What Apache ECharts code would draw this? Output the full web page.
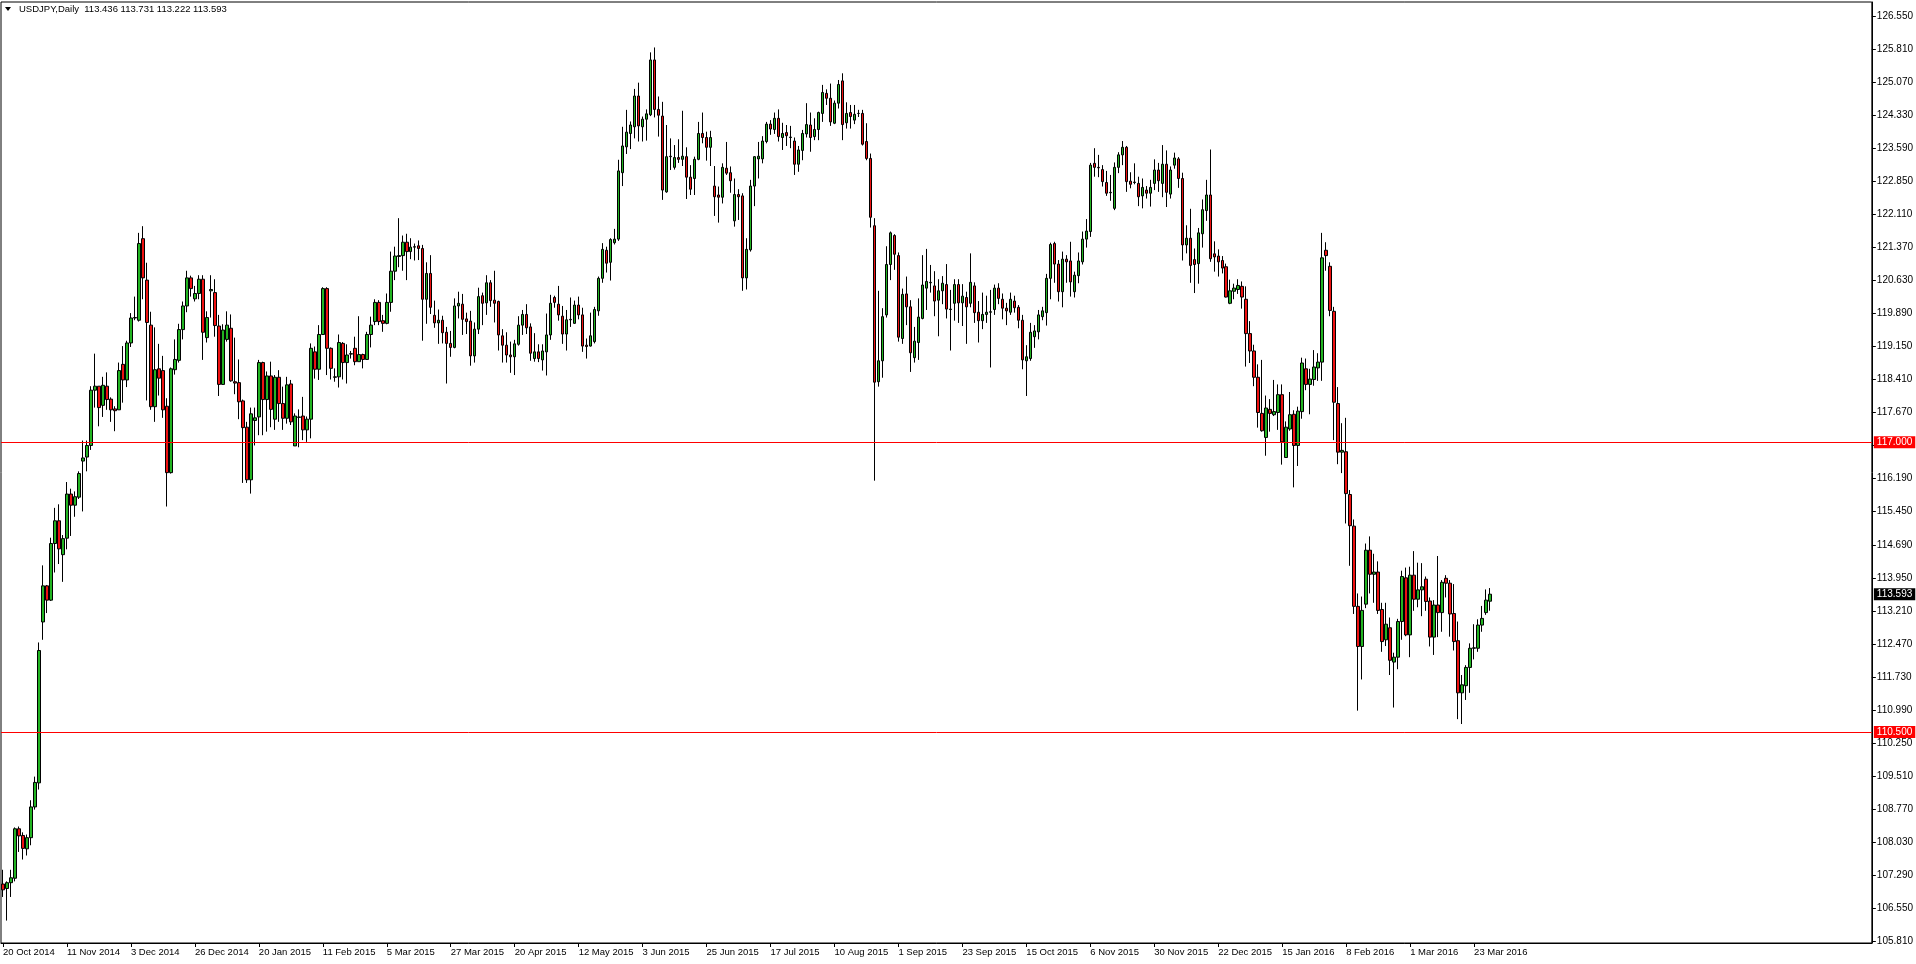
<!DOCTYPE html>
<html><head><meta charset="utf-8">
<script src="https://cdn.jsdelivr.net/npm/echarts@6/dist/echarts.min.js"></script>
<style>html,body{margin:0;padding:0;background:#fff;overflow:hidden}#c{width:1916px;height:964px}</style>
</head><body><div id="c"></div>
<script>
const symbolTitle = 'USDJPY,Daily  113.436 113.731 113.222 113.593';
const startDate = '2014-10-20';
const barCount = 373;
const slotCount = 468;

const opens = [
107.09,106.99,107.12,107.22,108.33,108.18,107.88,108.13,108.82,109.36,
112.97,113.78,113.46,114.73,115.24,114.48,114.85,115.84,115.59,115.77,
116.58,116.67,116.93,118.17,118.26,117.83,118.26,117.97,117.75,117.73,
118.75,118.40,119.23,119.79,119.74,121.57,120.64,119.63,117.80,118.65,
118.61,117.81,116.32,118.63,118.84,119.53,120.06,120.69,120.22,120.34,
120.66,119.35,120.40,120.36,119.61,118.30,119.31,119.56,118.36,118.34,
117.93,117.34,116.16,117.49,117.57,118.79,117.96,118.49,117.52,118.46,
117.87,117.54,118.31,116.92,117.56,117.59,117.28,117.52,119.03,118.64,
119.42,120.45,119.11,118.46,118.47,119.22,118.79,118.98,119.11,118.81,
118.97,118.86,119.42,119.71,120.14,119.73,119.67,120.14,120.84,121.17,
121.19,121.49,121.28,121.38,121.41,121.35,120.21,120.79,119.85,119.68,
119.74,119.47,119.22,119.13,120.06,120.10,119.77,119.72,118.94,119.54,
120.29,120.13,120.58,120.19,120.16,119.39,119.18,118.96,118.92,119.20,
119.63,119.87,119.59,118.88,119.03,118.85,119.03,119.41,120.25,120.10,
119.83,119.43,119.75,119.67,120.08,119.86,119.18,119.16,119.26,119.95,
120.68,121.31,121.04,121.48,121.56,123.05,123.63,123.93,124.08,124.77,
124.08,124.25,124.35,125.58,124.47,124.32,122.62,123.41,123.17,123.39,
123.35,123.41,122.95,122.92,123.35,123.93,123.84,123.62,122.75,122.55,
122.50,123.15,123.05,121.97,122.56,122.53,120.69,121.32,122.75,123.36,
123.36,123.75,124.14,124.02,124.27,123.84,123.95,123.84,123.76,123.24,
123.55,123.92,124.12,123.86,124.02,124.38,124.83,124.72,124.16,124.61,
125.11,124.17,124.40,124.23,124.38,124.38,123.75,123.37,121.86,118.36,
118.83,119.86,120.99,121.64,121.19,119.33,120.33,120.04,118.90,119.24,
119.78,120.46,120.58,120.51,120.19,120.40,120.54,119.98,120.12,120.54,
120.13,120.25,120.12,120.51,119.92,119.73,119.87,119.92,119.98,120.46,
120.21,120.01,119.92,120.17,120.03,119.74,118.83,118.88,119.37,119.48,
119.82,119.91,120.68,121.46,121.00,120.38,121.11,121.07,120.38,120.74,
121.05,121.56,121.73,123.26,123.17,123.12,122.83,122.60,122.25,123.17,
123.45,123.62,122.86,122.83,122.81,122.53,122.66,122.59,122.81,123.11,
122.81,123.24,122.57,123.22,123.36,122.92,121.43,121.58,121.10,121.01,
121.68,122.20,122.55,121.23,121.18,121.08,120.94,120.12,120.39,120.43,
120.50,120.21,119.44,119.05,118.46,117.65,117.11,117.74,117.62,117.67,
118.07,116.66,117.30,117.63,116.93,117.69,118.65,118.30,118.41,118.67,
118.80,121.31,120.95,119.94,117.87,116.78,116.79,115.83,115.12,113.32,
112.42,113.37,114.58,114.04,114.09,113.25,112.57,112.84,112.07,112.18,
112.98,113.96,112.68,114.02,113.48,113.69,113.93,113.44,112.63,113.35,
113.18,113.95,113.84,113.16,112.55,111.38,111.54,111.95,112.38,112.38,
112.90,113.18,113.436
];

const highs = [
107.41,107.15,107.41,108.36,108.38,108.25,108.20,108.97,109.50,112.51,
114.24,113.80,114.86,115.53,115.61,114.92,116.11,115.96,115.90,116.35,
117.04,117.04,118.26,118.99,118.26,118.47,118.57,118.01,117.81,118.79,
119.16,119.28,119.90,120.27,121.70,121.85,121.03,119.93,119.58,119.21,
118.94,117.99,118.68,119.31,119.66,120.16,120.85,120.74,120.51,120.75,
120.75,119.94,120.75,120.66,119.86,119.65,119.94,119.87,119.35,118.86,
117.96,117.46,117.78,117.78,118.85,118.81,118.59,118.81,118.51,118.62,
118.25,118.47,118.40,117.65,117.74,118.02,117.58,119.22,119.15,119.63,
120.48,120.48,119.13,118.66,119.42,119.25,119.20,119.05,119.37,119.83,
118.99,119.48,119.82,120.21,120.19,119.86,120.34,121.28,121.39,122.03,
121.64,121.68,121.58,121.46,121.53,121.43,121.04,121.20,120.18,119.98,
119.84,119.59,119.50,120.23,120.38,120.33,119.91,119.95,119.69,120.47,
120.36,120.75,120.64,120.85,120.18,119.54,119.47,119.26,119.30,119.83,
119.97,120.10,119.67,119.45,119.20,119.20,119.89,120.31,120.29,120.51,
120.06,119.97,120.25,120.18,120.27,120.02,119.33,119.91,120.04,120.72,
121.47,121.39,121.58,121.79,123.34,124.08,124.46,124.20,124.93,125.07,
124.31,124.47,125.75,125.86,124.76,124.64,124.12,123.82,123.67,123.80,
124.44,123.62,123.22,123.41,124.19,124.40,123.97,123.99,123.20,122.74,
123.26,123.74,123.19,122.92,122.68,122.59,121.58,122.89,123.42,123.74,
123.87,124.19,124.23,124.40,124.47,124.17,124.12,124.10,123.84,123.65,
124.01,124.61,124.40,124.27,124.42,125.02,124.92,125.05,124.67,125.13,
125.28,124.63,124.57,124.57,124.46,124.46,124.16,123.48,122.03,120.40,
120.01,121.40,121.73,121.67,121.26,120.45,120.72,120.19,119.59,120.23,
121.20,121.34,120.98,120.84,120.66,120.73,121.00,120.42,120.66,120.66,
120.55,120.38,121.24,120.59,120.17,120.36,120.29,120.42,120.54,120.57,
120.34,120.13,120.36,120.29,120.08,119.86,119.18,119.68,119.63,119.97,
120.04,120.78,121.48,121.50,121.09,121.28,121.20,121.50,120.83,121.26,
121.73,122.01,123.27,123.60,123.45,123.22,123.09,123.00,123.28,123.51,
123.76,123.65,123.06,123.26,122.96,122.92,122.75,122.89,123.35,123.27,
123.67,123.55,123.19,123.50,123.40,123.05,121.87,122.24,121.35,121.81,
122.45,122.89,123.57,121.51,121.33,121.18,121.01,120.65,120.56,120.66,
120.61,120.50,119.72,119.19,118.75,118.85,118.05,117.97,118.40,118.30,
118.30,117.47,118.13,117.72,117.80,118.90,118.88,118.65,119.07,119.00,
121.70,121.49,121.04,120.04,118.24,117.43,117.55,115.93,115.27,113.61,
113.54,114.73,114.89,114.50,114.33,113.40,113.40,113.07,112.28,113.04,
114.12,114.19,114.21,114.56,114.30,114.29,113.99,113.52,113.46,114.45,
113.91,114.02,113.91,113.82,112.98,111.78,112.00,112.49,112.92,113.03,
113.33,113.70,113.731
];

const lows = [
106.80,106.27,106.80,107.15,107.81,107.64,107.73,107.96,108.76,109.21,
112.57,113.17,113.44,114.08,114.27,113.87,114.60,114.90,115.33,115.73,
115.45,116.35,116.83,117.78,117.36,117.57,117.73,117.46,117.25,117.73,
117.89,118.24,119.14,119.74,119.71,120.21,117.94,117.73,117.46,118.05,
117.55,115.56,116.30,118.52,118.79,119.31,119.92,120.27,120.16,120.21,
118.85,119.24,119.80,119.37,118.04,118.29,119.26,118.36,118.08,117.52,
116.09,116.09,115.85,116.93,117.16,117.16,117.24,117.34,117.28,117.46,
117.28,117.42,117.39,116.92,116.89,117.05,117.01,117.09,118.43,118.40,
119.41,118.51,118.41,118.36,118.23,118.41,118.32,118.88,118.73,118.81,
118.66,118.85,119.13,119.63,119.63,119.48,119.65,119.93,120.64,120.93,
120.85,120.64,121.11,121.08,121.09,119.28,119.66,119.88,119.57,119.21,
119.22,118.32,118.92,119.11,119.78,119.41,119.43,118.72,118.79,119.43,
119.63,119.86,120.04,119.69,119.06,118.79,118.79,118.56,118.51,119.17,
119.41,119.43,118.83,118.81,118.80,118.61,118.50,119.30,120.02,119.73,
119.21,119.06,119.59,119.66,119.76,119.03,118.88,119.15,119.22,119.84,
120.58,120.81,120.63,121.44,121.52,122.75,123.47,123.58,123.82,123.75,
123.75,123.77,124.32,124.29,123.86,122.44,122.60,123.11,123.12,123.27,
123.20,122.46,122.55,122.55,123.33,123.71,123.32,123.20,122.08,121.93,
122.36,123.00,122.60,121.84,121.99,120.40,120.43,121.28,122.30,122.92,
123.26,123.71,123.90,123.92,123.75,123.56,123.65,123.60,123.00,123.07,
123.33,123.84,123.52,123.78,123.78,124.19,124.57,124.10,124.14,124.49,
123.78,124.04,124.04,124.14,124.30,123.66,123.33,121.82,116.14,118.25,
118.45,119.80,120.64,120.87,119.26,119.21,119.63,118.58,118.79,118.85,
119.76,119.97,120.36,119.83,119.38,120.10,119.78,119.06,119.73,119.68,
119.61,119.21,120.03,119.68,119.24,119.54,119.68,118.68,119.86,120.10,
119.76,119.63,119.86,119.91,119.56,118.64,118.04,118.83,119.12,119.31,
119.74,119.62,120.21,120.58,120.16,120.03,120.58,120.27,120.25,120.57,
120.99,121.37,121.61,122.96,122.95,122.74,122.53,122.42,122.21,123.04,
123.22,122.62,122.70,122.79,122.30,122.25,122.47,122.29,122.66,122.62,
122.50,122.28,122.47,123.14,122.71,121.08,121.24,120.58,120.35,120.56,
121.37,121.97,121.05,120.83,120.72,120.79,120.25,120.10,120.21,120.33,
120.00,118.70,118.78,118.26,117.33,117.24,116.70,117.24,117.59,117.28,
116.50,116.66,117.26,115.99,116.47,117.53,118.17,117.63,118.27,118.38,
118.38,120.85,119.83,117.05,116.51,116.31,115.18,114.23,113.15,110.98,
111.68,113.28,113.61,113.40,113.15,112.30,112.43,111.78,111.05,111.91,
112.57,112.65,112.18,113.22,113.30,113.10,113.22,112.42,112.23,112.63,
112.75,113.52,112.64,112.33,110.79,110.68,111.22,111.38,112.13,112.30,
112.75,113.13,113.222
];

const closes = [
106.96,107.12,107.23,108.33,108.17,107.89,108.13,108.82,109.37,112.33,
113.78,113.46,114.73,115.24,114.61,114.84,115.84,115.59,115.78,116.30,
116.65,116.93,118.17,118.26,117.78,118.28,117.96,117.73,117.71,118.61,
118.40,119.23,119.79,119.80,121.46,120.69,119.69,117.80,118.63,118.44,
117.73,116.32,118.65,118.86,119.53,120.06,120.69,120.45,120.34,120.66,
119.47,119.80,120.43,119.62,118.30,119.52,119.63,118.38,118.33,117.91,
117.33,116.16,117.64,117.55,118.79,117.96,118.49,117.74,118.46,117.87,
117.54,118.29,117.46,117.59,117.57,117.28,117.52,119.11,118.64,119.42,
120.45,119.11,118.66,118.47,119.24,118.79,118.96,118.99,118.81,118.97,
118.86,119.42,119.63,120.14,119.71,119.67,120.14,120.84,121.18,121.19,
121.49,121.28,121.38,121.39,121.35,120.21,120.79,120.03,119.68,119.74,
119.46,119.22,119.13,120.06,120.12,119.76,119.71,118.94,119.54,120.27,
120.12,120.58,120.18,120.12,119.41,119.18,118.96,118.92,119.21,119.63,
119.87,119.57,119.00,119.03,118.88,119.05,119.41,120.12,120.14,119.86,
119.43,119.75,119.76,120.08,119.86,119.16,119.15,119.39,119.98,120.68,
121.33,121.02,121.55,121.56,123.09,123.65,123.96,124.12,124.77,124.10,
124.25,124.37,125.58,124.47,124.34,122.66,123.41,123.42,123.39,123.35,
123.42,122.95,122.68,123.35,123.93,123.84,123.62,123.84,122.51,122.50,
123.17,123.04,122.87,122.56,122.51,120.69,121.33,122.75,123.41,123.42,
123.76,124.14,124.03,124.27,123.86,123.93,123.88,123.85,123.24,123.56,
123.93,124.13,123.84,124.02,124.40,124.85,124.72,124.19,124.61,125.03,
124.13,124.38,124.31,124.36,124.38,123.69,123.37,122.05,118.35,118.83,
119.82,120.99,121.70,121.22,119.36,120.32,120.04,119.01,119.27,119.81,
120.53,120.61,120.59,120.17,120.40,120.57,119.99,119.99,120.54,120.13,
120.28,120.04,120.59,119.91,119.73,119.87,119.92,119.93,120.46,120.23,
120.01,119.95,120.21,120.02,119.74,118.85,118.92,119.47,119.50,119.86,
119.95,120.68,121.44,121.00,120.38,121.11,121.05,120.60,120.75,121.07,
121.56,121.74,123.22,123.17,123.16,122.85,122.59,122.61,123.17,123.45,
123.62,122.85,122.79,122.84,122.51,122.72,122.59,122.72,123.11,122.87,
123.24,122.61,123.11,123.38,122.92,121.43,121.58,120.97,120.99,121.70,
122.22,122.55,121.12,121.16,121.05,120.91,120.26,120.40,120.46,120.52,
120.26,119.44,119.05,118.46,117.67,117.26,117.77,117.65,117.69,118.07,
117.01,117.34,117.62,116.93,117.70,118.78,118.30,118.42,118.69,118.80,
121.14,121.19,119.96,117.90,116.78,116.82,115.85,115.13,113.32,112.42,
113.23,114.58,114.04,114.09,113.23,112.53,112.92,112.11,112.18,112.98,
113.99,112.68,114.02,113.48,113.69,113.76,113.43,112.63,113.35,113.18,
113.86,113.84,113.15,112.53,111.38,111.56,111.95,112.38,112.39,112.90,
113.05,113.46,113.593
];

const yTickLabels = [126.55,125.81,125.07,124.33,123.59,122.85,122.11,121.37,120.63,119.89,119.15,118.41,117.67,116.93,116.19,115.45,114.69,113.95,113.21,112.47,111.73,110.99,110.25,109.51,108.77,108.03,107.29,106.55,105.81];
const levelLines = [117.000, 110.500];
const lastPrice = 113.593;

const MONTHS = ['Jan','Feb','Mar','Apr','May','Jun','Jul','Aug','Sep','Oct','Nov','Dec'];
function tradingDates(start, n) {
  const out = [];
  const p = start.split('-').map(Number);
  let t = Date.UTC(p[0], p[1]-1, p[2]);
  while (out.length < n) {
    const d = new Date(t);
    const wd = d.getUTCDay(), m = d.getUTCMonth(), day = d.getUTCDate();
    const holiday = (m === 11 && day === 25) || (m === 0 && day === 1);
    if (wd !== 0 && wd !== 6 && !holiday) out.push(day + ' ' + MONTHS[m] + ' ' + d.getUTCFullYear());
    t += 86400000;
  }
  return out;
}
const dates = tradingDates(startDate, barCount);
const categories = dates.concat(new Array(slotCount - barCount).fill(''));
const candles = opens.map((o, i) => [o, closes[i], lows[i], highs[i]]);

const FONT = 'Liberation Sans';
const chart = echarts.init(document.getElementById('c'), null, {renderer: 'canvas'});
const showLabel = (idx, val) => idx % 16 === 0 && val !== '';

function levelItem(v, bg, lineColor) {
  return {
    yAxis: v,
    lineStyle: {color: lineColor, width: 1, type: 'solid'},
    label: {
      show: true, position: 'end', distance: 2,
      formatter: v.toFixed(3),
      color: '#fff', backgroundColor: bg,
      fontFamily: FONT, fontSize: 10, padding: [1, 3, 0, 3], lineHeight: 11
    }
  };
}

chart.setOption({
  animation: false,
  backgroundColor: '#fff',
  grid: {left: 1, right: 43, top: 2, bottom: 21, show: true, borderColor: '#000', borderWidth: 1, backgroundColor: '#fff'},
  graphic: [
    {type: 'polygon', shape: {points: [[5, 7], [11, 7], [8, 11]]}, style: {fill: '#000'}},
    {type: 'text', left: 19, top: 4, style: {text: symbolTitle, fill: '#000', font: '9.5px "' + FONT + '"'}}
  ],
  xAxis: {
    type: 'category', data: categories, boundaryGap: true,
    axisLine: {lineStyle: {color: '#000', width: 1}},
    axisTick: {show: true, alignWithLabel: true, interval: showLabel, length: 4, lineStyle: {color: '#000'}},
    axisLabel: {interval: showLabel, align: 'left', margin: 4, color: '#000', fontFamily: FONT, fontSize: 9.5},
    splitLine: {show: false}
  },
  yAxis: {
    type: 'value', position: 'right', min: 105.767, max: 126.88, scale: true,
    axisLine: {show: true, lineStyle: {color: '#000', width: 1}},
    axisTick: {show: true, length: 4, customValues: yTickLabels, lineStyle: {color: '#000'}},
    axisLabel: {customValues: yTickLabels, formatter: v => v.toFixed(3), margin: 5, color: '#000', fontFamily: FONT, fontSize: 10},
    splitLine: {show: false}
  },
  series: [{
    type: 'candlestick',
    data: candles,
    barWidth: 3,
    clip: false,
    itemStyle: {color: '#22b422', color0: '#ee1111', borderColor: '#000', borderColor0: '#000', borderWidth: 1},
    markLine: {
      silent: true, symbol: ['none', 'none'], animation: false,
      data: [
        levelItem(levelLines[0], '#ff0000', '#ff0000'),
        levelItem(levelLines[1], '#ff0000', '#ff0000'),
        levelItem(lastPrice, '#000', 'rgba(0,0,0,0)')
      ]
    }
  }]
});
</script>
</body></html>
